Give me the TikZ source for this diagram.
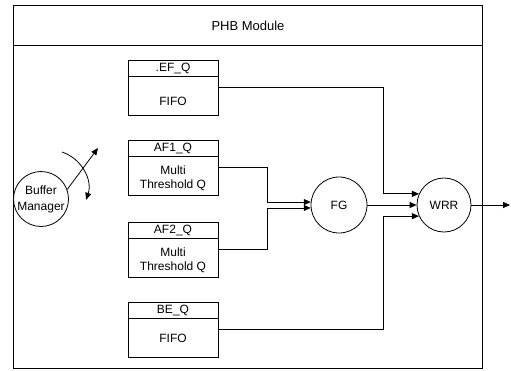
\documentclass[tikz,border=0pt]{standalone}
\usepackage{fontspec}
\setmainfont{Liberation Sans}
\usetikzlibrary{arrows.meta}
\begin{document}
\begin{tikzpicture}[x=1pt,y=-1pt,line width=0.8pt,
  >={Triangle[length=7pt,width=6pt]},
  txt/.style={font=\fontsize{12}{14}\selectfont,inner sep=0pt},
  qbox/.style={draw,minimum width=90pt,minimum height=55pt,inner sep=0pt},
  rnd/.style={draw,circle,minimum size=56pt,inner sep=0pt}]
\useasboundingbox (0,0) rectangle (511,370);
% frame
\node[draw,minimum width=469pt,minimum height=363pt,anchor=north west,inner sep=0pt] (frame) at (13,5) {};
\draw (13,45) -- (482,45);
\node[txt,font=\fontsize{13}{15}\selectfont] (title) at (248,26) {PHB Module};
% queues
\node[qbox] (ef) at (173,87.5) {};
\draw (ef.north west) ++(0,17) -- ++(90,0);
\node[txt] (efh) at (173,68.5) {.EF\_Q};
\node[txt] (efb) at (173,101.5) {FIFO};

\node[qbox] (af1) at (173,167.5) {};
\draw (af1.north west) ++(0,17) -- ++(90,0);
\node[txt] (af1h) at (173,148.5) {AF1\_Q};
\node[txt] (af1m) at (173,170) {Multi};
\node[txt] (af1t) at (173,185) {Threshold Q};

\node[qbox] (af2) at (173,249.5) {};
\draw (af2.north west) ++(0,17) -- ++(90,0);
\node[txt] (af2h) at (173,230.5) {AF2\_Q};
\node[txt] (af2m) at (173,252) {Multi};
\node[txt] (af2t) at (173,267) {Threshold Q};

\node[qbox] (be) at (173,329.5) {};
\draw (be.north west) ++(0,17) -- ++(90,0);
\node[txt] (beh) at (173,310.5) {BE\_Q};
\node[txt] (beb) at (173,338) {FIFO};
% FG and WRR
\node[rnd] (fg) at (339,205) {};
\node[txt] at (fg) {FG};
\node[rnd,minimum size=54pt] (wrr) at (444,205) {};
\node[txt] at (wrr) {WRR};
\coordinate (out) at (510,205);
% buffer manager
\node[rnd,minimum size=55pt,align=center,font=\fontsize{12}{16}\selectfont] (bm) at (41,199) {Buffer\\Manager};
\coordinate (arcS) at (62,152);
\coordinate (bmtip) at (98,148);
\draw[->] (arcS) arc[start angle=-71.6,end angle=18,radius=38];
\draw[->] (bm.20) -- (bmtip);
% connectors
\draw[->] (af1.east) -- (267,167.5) |- (fg.174);
\draw[->] (af2.east) -- (267,249.5) |- (fg.186);
\draw[->] (ef.east) -- (383,87.5) |- (wrr.156);
\draw[->] (be.east) -- (383,329.5) |- (wrr.204);
\draw[->] (fg.east) -- (wrr.west);
\draw[->] (wrr.east) -- (out);
\end{tikzpicture}
\end{document}
